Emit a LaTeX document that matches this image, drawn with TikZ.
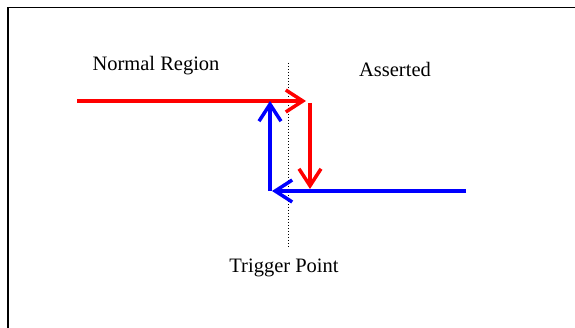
\documentclass[tikz,border=0pt]{standalone}
\usepackage{fontspec}
\setmainfont{Liberation Serif}
\usetikzlibrary{arrows.meta}
\definecolor{pred}{RGB}{255,0,0}
\definecolor{pblue}{RGB}{0,0,255}
\tikzset{
  redarrow/.style={draw=pred, line width=3.5pt, -{Straight Barb[length=17pt,width=22pt,line width=3.5pt]}},
  bluearrow/.style={draw=pblue, line width=3.5pt, -{Straight Barb[length=17pt,width=22pt,line width=3.5pt]}},
  lbl/.style={inner sep=0pt, font=\fontsize{20.5}{24}\selectfont},
  trig/.style={draw=black, line width=1pt, dotted},
}
\begin{document}
\begin{tikzpicture}[x=1pt,y=-1pt]
\useasboundingbox (0,0) rectangle (575,328);
\fill[white] (0,0) rectangle (575,328);
\draw[line width=1.6pt] (8,345) -- (8,7.5) -- (590,7.5);
% trigger line
\coordinate (dt) at (288.5,63);
\coordinate (db) at (288.5,248);
\draw[trig] (dt) -- (db);
% path coordinates
\coordinate (rs) at (77,101);
\coordinate (re) at (306,101);
\coordinate (ds) at (310,103);
\coordinate (de) at (310,189);
\coordinate (bs) at (466,191);
\coordinate (be) at (272,191);
\coordinate (us) at (270,191);
\coordinate (ue) at (270,101);
\draw[redarrow] (rs) -- (re);
\draw[redarrow] (ds) -- (de);
\draw[bluearrow] (bs) -- (be);
\draw[bluearrow] (us) -- (ue);
% labels
\node[lbl] (nr) at (156,66) {Normal Region};
\node[lbl] (as) at (395,69) {Asserted};
\node[lbl] (tp) at (284,268) {Trigger Point};
\end{tikzpicture}
\end{document}
